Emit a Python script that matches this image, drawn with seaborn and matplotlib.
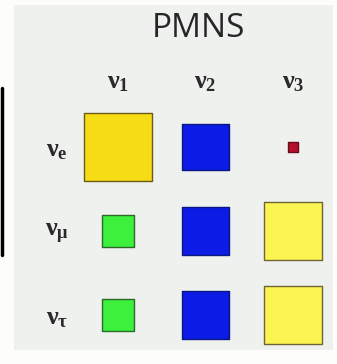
import pandas as pd
import seaborn as sns
import matplotlib.pyplot as plt

# |U| magnitudes (area ~ |U|^2)
flavours = [r"$\nu_e$", r"$\nu_\mu$", r"$\nu_\tau$"]
masses = [r"$\nu_1$", r"$\nu_2$", r"$\nu_3$"]
u_e = [0.82, 0.56, 0.11]
u_mu = [0.39, 0.57, 0.70]
u_tau = [0.39, 0.57, 0.70]
cell_colours = ["gold", "blue", "red",
                "green", "blue", "yellow",
                "green", "blue", "yellow"]

palette = {"gold": "#f6dc14", "blue": "#0d1be6", "red": "#b5102e",
           "green": "#3cf03c", "yellow": "#fbf552"}
edges = {"gold": "#6b5a18", "blue": "#0b1780", "red": "#6a0a1a",
         "green": "#2c6a2c", "yellow": "#6e6434"}

rows = []
for r, vals in enumerate([u_e, u_mu, u_tau]):
    for c, v in enumerate(vals):
        rows.append({"row": r, "col": c, "u2": v ** 2, "kind": cell_colours[r * 3 + c]})
df = pd.DataFrame(rows)

sns.set_style("white")
plt.rcParams["mathtext.fontset"] = "custom"
plt.rcParams["mathtext.rm"] = "Liberation Serif:bold"
plt.rcParams["mathtext.it"] = "Liberation Serif:bold"
plt.rcParams["mathtext.bf"] = "Liberation Serif:bold"

fig = plt.figure(figsize=(3.37, 3.64), dpi=100, facecolor="#fdfdfb")
ax = fig.add_axes([14 / 337, 14 / 364, 319 / 337, 345 / 364])
ax.set_facecolor("#eff1ef")

full = (82.6 * 0.72) ** 2
sns.scatterplot(data=df, x="col", y="row", hue="kind", palette=palette,
                size="u2", sizes=(0, full), size_norm=(0, 1),
                marker="s", linewidth=1.0, legend=False, ax=ax)
ax.collections[0].set_edgecolor([edges[k] for k in df["kind"]])

ax.set_xlim(-1.189, 2.457)
ax.set_ylim(2.417, -1.690)
ax.set_xticks([])
ax.set_yticks([])
ax.set_xlabel("")
ax.set_ylabel("")
for s in ax.spines.values():
    s.set_visible(False)

ax.text(0.914, -1.41, "PMNS", family="Open Sans", fontsize=24,
        color="#262626", ha="center", va="center")
for c, lab in enumerate(masses):
    ax.text(c, -0.78, lab, fontsize=19, color="#2a2a2a", ha="center", va="center")
for r, lab in enumerate(flavours):
    ax.text(-0.70, r + 0.03, lab, fontsize=19, color="#2a2a2a", ha="center", va="center")

# black edge bar at the far left of the frame
fig.add_artist(plt.Line2D([1.5 / 337, 1.5 / 337], [1 - 88 / 364, 1 - 255 / 364],
                          transform=fig.transFigure, color="black", lw=2.5))

fig.savefig("out.png", dpi=100, facecolor=fig.get_facecolor())
